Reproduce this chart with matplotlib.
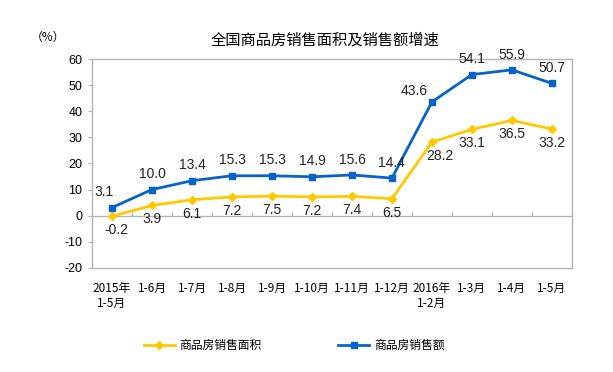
import numpy as np
import matplotlib
matplotlib.use("Agg")
import matplotlib.pyplot as plt

plt.rcParams['font.family'] = ['Liberation Sans', 'Noto Sans CJK SC', 'DejaVu Sans']
plt.rcParams['axes.unicode_minus'] = False

# data
months = ["2015年\n1-5月", "1-6月", "1-7月", "1-8月", "1-9月", "1-10月", "1-11月",
          "1-12月", "2016年\n1-2月", "1-3月", "1-4月", "1-5月"]
area_growth = [-0.2, 3.9, 6.1, 7.2, 7.5, 7.2, 7.4, 6.5, 28.2, 33.1, 36.5, 33.2]
sales_growth = [3.1, 10.0, 13.4, 15.3, 15.3, 14.9, 15.6, 14.4, 43.6, 54.1, 55.9, 50.7]

yellow = "#FFC800"
blue = "#0763C8"
grid_c = "#B4B4B4"
cjk = ['Noto Sans CJK SC', 'DejaVu Sans']

fig = plt.figure(figsize=(6.13, 3.72), dpi=100)
ax = fig.add_axes([0.150, 0.280, 0.783, 0.561])

x = np.arange(len(months))
ax.plot(x, area_growth, color=yellow, lw=2, marker="D", ms=4.5, label="商品房销售面积", zorder=3)
ax.plot(x, sales_growth, color=blue, lw=2, marker="s", ms=5, label="商品房销售额", zorder=3)

ax.set_xlim(-0.5, len(months) - 0.5)
ax.set_ylim(-20, 60)
ax.set_yticks(range(-20, 61, 10))
ax.set_xticks(x)
ax.set_xticklabels(months, fontsize=8.5, family=cjk, linespacing=1.25, va="top")
ax.tick_params(axis="x", length=0, pad=10)
ax.tick_params(axis="y", length=3, color=grid_c, labelsize=9, pad=4)
for s in ax.spines.values():
    s.set_color(grid_c)
    s.set_linewidth(1)

# zero line with category separator ticks
ax.axhline(0, color=grid_c, lw=1, zorder=1)
ax.vlines(x[:-1] + 0.5, 0, 1.3, color=grid_c, lw=1, zorder=1)

# value labels
for i, v in enumerate(sales_growth):
    dx, dy, ha = 0, 6, "center"
    if i == 0:
        dx, dy = -6, 6
    elif i == 8:
        dx, dy, ha = -3, 3, "right"
    ax.annotate(f"{v:.1f}", (i, v), xytext=(dx, dy), textcoords="offset points",
                ha=ha, va="bottom", fontsize=10, color="#222222")
for i, v in enumerate(area_growth):
    dx, dy = 0, -5
    if i == 0:
        dx = 3
    elif i == 8:
        dx = 6
    ax.annotate(f"{v:.1f}", (i, v), xytext=(dx, dy), textcoords="offset points",
                ha="center", va="top", fontsize=10, color="#222222")

fig.text(0.53, 0.893, "全国商品房销售面积及销售额增速", ha="center", va="center",
         fontsize=11, family=cjk)
fig.text(0.078, 0.90, "（%）", ha="center", va="center", fontsize=8.5, family=cjk)

fig.legend(loc="center", bbox_to_anchor=(0.48, 0.072), ncol=2, frameon=False,
           columnspacing=6.5, handlelength=2.6, handletextpad=0.4,
           prop={"family": cjk, "size": 8.5})

fig.savefig("out.png", dpi=100)
plt.close()
